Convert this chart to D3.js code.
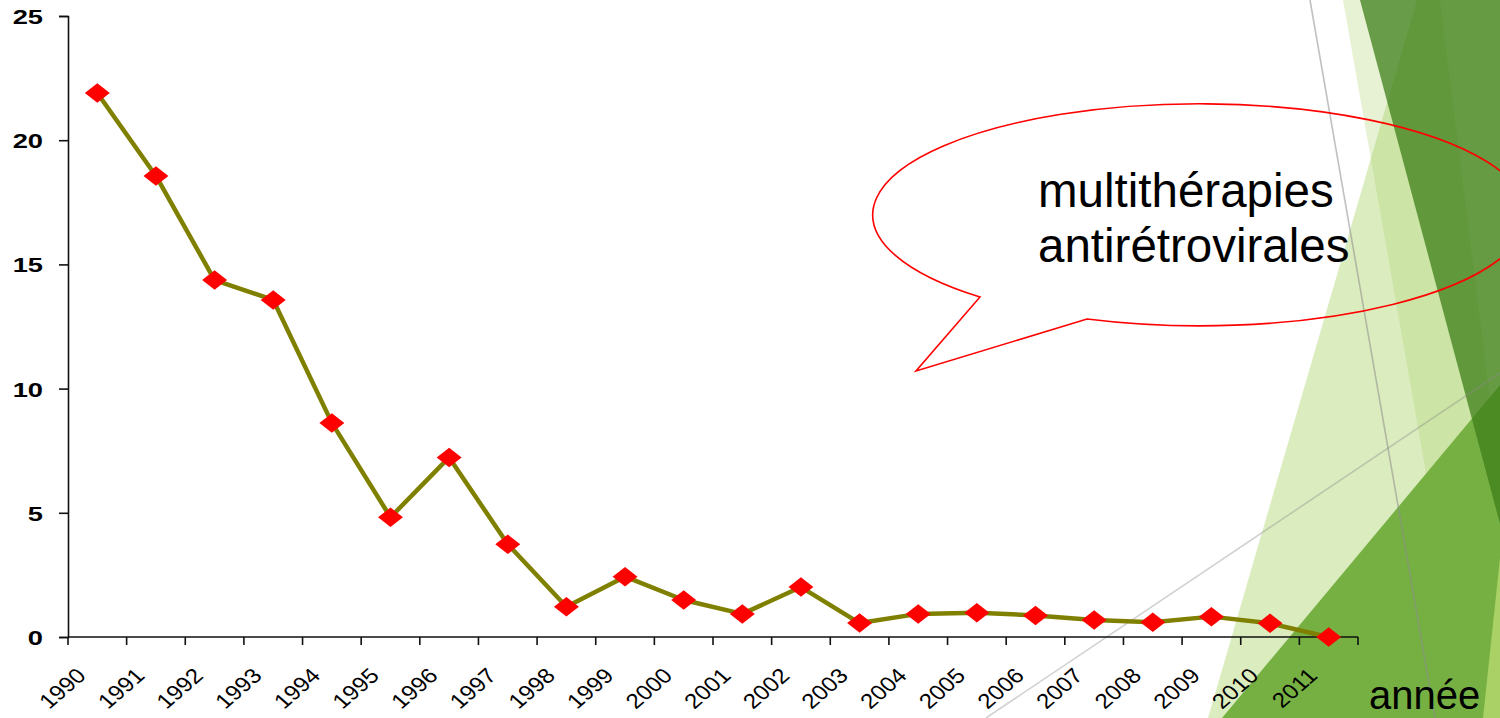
<!DOCTYPE html>
<html>
<head>
<meta charset="utf-8">
<script src="https://cdn.jsdelivr.net/npm/d3@7"></script>
<style>
  html, body { margin: 0; padding: 0; background: #ffffff; }
  svg { display: block; font-family: "Liberation Sans", Arial, sans-serif; }
</style>
</head>
<body>
<svg id="chart" width="1500" height="718"></svg>
<script>
// Years on the horizontal axis
const years = ["1990","1991","1992","1993","1994","1995","1996","1997","1998","1999","2000",
               "2001","2002","2003","2004","2005","2006","2007","2008","2009","2010","2011"];
// Yearly values of the series
const values = [21.9, 18.56, 14.37, 13.57, 8.62, 4.82, 7.23, 3.73, 1.22, 2.43, 1.49,
                0.93, 2.01, 0.56, 0.93, 0.98, 0.87, 0.68, 0.59, 0.82, 0.55, 0.0];
// Vertical axis ticks
const yTicks = [0, 5, 10, 15, 20, 25];
// Annotation text
const bubbleLines = ["multithérapies", "antirétrovirales"];
const axisTitle = "année";

const svg = d3.select("#chart");

// ---- decorative background facets on the right side ----
const deco = svg.append("g").attr("class", "facets");
const facets = [
  { pts: [[1343,0],[1440,0],[1530,718],[1469,718]], fill: "#a5cf60", op: 0.27 },
  { pts: [[1208,718],[1417,0],[1500,0],[1500,718]], fill: "#a5cf60", op: 0.40 },
  { pts: [[1222,718],[1500,385],[1500,718]],         fill: "#76b043", op: 1 },
  { pts: [[1483,718],[1500,558],[1500,718]],         fill: "#a9d165", op: 1 },
  { pts: [[1360,0],[1500,0],[1500,524]],             fill: "#3f7f1a", op: 0.75 }
];
deco.selectAll("polygon").data(facets).join("polygon")
  .attr("points", d => d.pts.map(p => p.join(",")).join(" "))
  .attr("fill", d => d.fill)
  .attr("fill-opacity", d => d.op);
deco.append("line").attr("x1", 1310).attr("y1", 0).attr("x2", 1435).attr("y2", 718)
  .attr("stroke", "#8c8c8c").attr("stroke-opacity", 0.55).attr("stroke-width", 1.6);
deco.append("line").attr("x1", 986).attr("y1", 718).attr("x2", 1500).attr("y2", 373)
  .attr("stroke", "#8c8c8c").attr("stroke-opacity", 0.4).attr("stroke-width", 1.6);

// ---- scales ----
const x = d3.scaleBand().domain(years).range([68, 1358]).padding(0);
const y = d3.scaleLinear().domain([0, 25]).range([637, 16]);
const cx = d => x(d) + x.bandwidth() / 2;

// ---- y axis ----
const yAxis = svg.append("g").attr("transform", "translate(68,0)")
  .call(d3.axisLeft(y).tickValues(yTicks).tickSize(9).tickFormat(d3.format("d")));
yAxis.select(".domain").attr("stroke", "#111").attr("stroke-width", 1.6);
yAxis.selectAll(".tick line").attr("stroke", "#111").attr("stroke-width", 1.6);
yAxis.selectAll(".tick text").each(function(d) {
  d3.select(this)
    .attr("x", null).attr("dy", null)
    .attr("transform", "translate(-25,7.5) scale(1.3,1)")
    .attr("text-anchor", "end")
    .attr("font-size", 21).attr("font-weight", "bold").attr("fill", "#000")
    .attr("font-family", "'Liberation Sans', Arial, sans-serif");
});

// ---- x axis (ticks on category boundaries) ----
const xAxis = svg.append("g").attr("transform", "translate(0,637)");
xAxis.append("line").attr("x1", 68).attr("x2", 1358).attr("y1", 0).attr("y2", 0)
  .attr("stroke", "#111").attr("stroke-width", 1.6);
const boundaries = years.map(d => x(d)).concat([x(years[years.length - 1]) + x.bandwidth()]);
xAxis.selectAll("line.tick").data(boundaries).join("line").attr("class", "tick")
  .attr("x1", d => d).attr("x2", d => d).attr("y1", 0).attr("y2", 8)
  .attr("stroke", "#111").attr("stroke-width", 1.6);
xAxis.selectAll("text").data(years).join("text")
  .attr("transform", d => `translate(${cx(d) - 10},${40}) scale(1.15,1) rotate(-45)`)
  .attr("text-anchor", "end")
  .attr("font-size", 21)
  .attr("fill", "#000")
  .text(d => d);

// ---- series line and markers ----
const series = years.map((yr, i) => ({ yr, v: values[i] }));
svg.append("path").datum(series)
  .attr("fill", "none").attr("stroke", "#808000").attr("stroke-width", 4.5)
  .attr("stroke-linejoin", "round")
  .attr("d", d3.line().x(d => cx(d.yr)).y(d => y(d.v)));
const diamond = d3.symbol().type(d3.symbolSquare).size(190);
svg.selectAll("path.marker").data(series).join("path").attr("class", "marker")
  .attr("d", diamond)
  .attr("transform", d => `translate(${cx(d.yr)},${y(d.v)}) scale(1.28,1) rotate(45)`)
  .attr("fill", "#ff0000");

// ---- speech bubble annotation ----
svg.append("path")
  .attr("d", "M 1087 319 A 327 111 0 1 0 980 297 L 916 371 Z")
  .attr("fill", "none").attr("stroke", "#ff0000").attr("stroke-width", 1.6);
svg.append("g").selectAll("text").data(bubbleLines).join("text")
  .attr("x", 1038).attr("y", (d, i) => 207 + i * 55)
  .attr("font-size", 47.5).attr("fill", "#000")
  .text(d => d);

// ---- axis title ----
svg.append("text").attr("x", 1369).attr("y", 709)
  .attr("font-size", 40).attr("fill", "#000").text(axisTitle);
</script>
</body>
</html>
